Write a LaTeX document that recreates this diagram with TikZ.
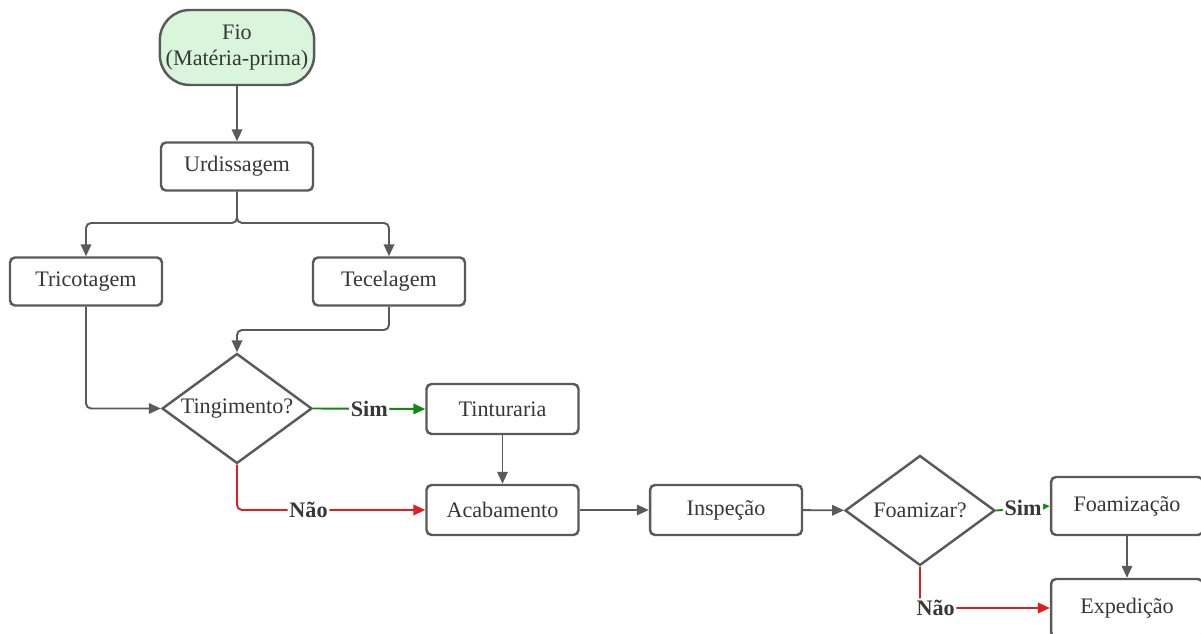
\documentclass[tikz,border=0pt]{standalone}
\usepackage{fontspec}
\setmainfont{Liberation Serif}
\usetikzlibrary{positioning,arrows.meta,calc,shapes.geometric}
\definecolor{linegray}{RGB}{90,90,90}
\definecolor{textgray}{RGB}{55,55,55}
\definecolor{startgreen}{RGB}{217,245,220}
\definecolor{simgreen}{RGB}{20,135,20}
\definecolor{naored}{RGB}{225,30,30}
\tikzset{
  flowarrow/.style={-{Triangle[length=2.4mm, width=2.1mm]}, line width=1.1pt, draw=linegray, rounded corners=1mm},
  simarrow/.style={flowarrow, draw=simgreen, -{Triangle[length=2.4mm, width=2.1mm, fill=simgreen]}},
  naoarrow/.style={flowarrow, draw=naored, -{Triangle[length=2.4mm, width=2.1mm, fill=naored]}},
  startbox/.style={draw=linegray, line width=1.4pt, rounded corners=6mm, fill=startgreen, minimum width=3.04cm, minimum height=1.5cm, align=center},
  stepbox/.style={draw=linegray, line width=1.4pt, rounded corners=1mm, fill=white, minimum width=3.04cm, minimum height=0.96cm, align=center},
  askbox/.style={draw=linegray, line width=1.4pt, diamond, aspect=1.37, fill=white, inner sep=0pt, minimum width=3.0cm, minimum height=2.2cm, align=center},
  answer/.style={font=\fontsize{12.6}{15}\selectfont\bfseries, fill=white, inner sep=1pt, text=textgray}
}

\begin{document}
\begin{tikzpicture}[x=0.02cm, y=-0.02cm, every node/.style={font=\fontsize{12.6}{15}\selectfont, text=textgray}]
  \useasboundingbox (0,0) rectangle (1201,634);
  \node[startbox] (fio) at (237,47.5) {Fio\\(Matéria-prima)};
  \node[stepbox] (urd) at (237,166.5) {Urdissagem};
  \node[stepbox] (tric) at (86,281.5) {Tricotagem};
  \node[stepbox] (tec) at (389,281.5) {Tecelagem};
  \node[askbox] (ting) at (237,408.5) {Tingimento?};
  \node[stepbox, minimum height=1cm] (tint) at (502.5,409) {Tinturaria};
  \node[stepbox, minimum height=1cm] (acab) at (502.5,510) {Acabamento};
  \node[stepbox, minimum height=1cm] (insp) at (726,510) {Inspeção};
  \node[askbox] (foam) at (920,510.5) {Foamizar?};
  \node[stepbox, minimum height=1.16cm] (foamiz) at (1127,506) {Foamização};
  \node[stepbox, minimum height=1.16cm] (exped) at (1127,608) {Expedição};
  \coordinate (split) at (237,223);
  \coordinate (merge) at (237,330);
  \draw[flowarrow] (fio) -- (urd);
  \draw[flowarrow] (urd.south) -- (split) -| (tric.north);
  \draw[flowarrow] (urd.south) -- (split) -| (tec.north);
  \draw[flowarrow] (tric.south) |- (ting.west);
  \draw[flowarrow] (tec.south) |- (merge) -- (ting.north);
  \draw[simarrow] (ting.east) -- node[answer] {Sim} (tint.west);
  \draw[naoarrow] (ting.south) |- node[answer, pos=0.69] {Não} (acab.west);
  \draw[flowarrow] (tint) -- (acab);
  \draw[flowarrow] (acab) -- (insp);
  \draw[flowarrow] (insp) -- (foam);
  \draw[simarrow] (foam.east) -- node[answer] {Sim} (foamiz.west);
  \draw[naoarrow] (foam.south) |- node[answer, pos=0.56] {Não} (exped.west);
  \draw[flowarrow] (foamiz) -- (exped);
\end{tikzpicture}
\end{document}
